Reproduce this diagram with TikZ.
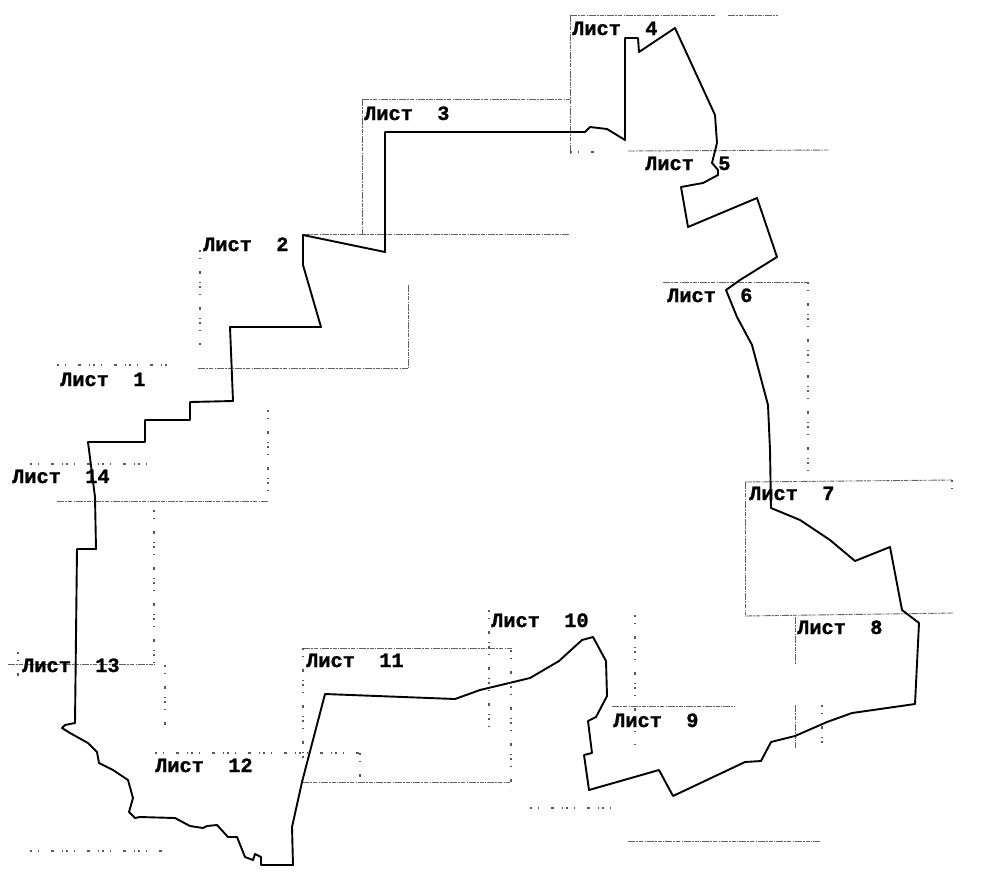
\documentclass[tikz,border=0pt]{standalone}
\usepackage{fontspec}
\setmainfont{Liberation Mono}
\newfontfamily\sheetfont[FakeBold=1.2]{Liberation Mono Bold}
\tikzset{
  boundary/.style={line width=1.9pt,black,line join=round},
  sheetline/.style={line width=0.9pt,black!62,dash pattern=on 7pt off 1pt on 2pt off 1pt on 4pt off 1.5pt on 1pt off 1pt},
  sparseline/.style={line width=1.1pt,black!65,dash pattern=on 2pt off 6pt on 1pt off 12pt on 3pt off 8pt on 1pt off 3pt},
  sheetlabel/.style={anchor=base west,inner sep=0pt,font=\sheetfont\fontsize{20.3}{20}\selectfont}
}
\begin{document}
\begin{tikzpicture}[x=1pt,y=-1pt]
\useasboundingbox (0,0) rectangle (995,884);
% sheet grid
\draw[sheetline] (570,15) -- (715,15);
\draw[sheetline] (728,15) -- (778,15);
\draw[sheetline] (570,15) -- (570,153);
\draw[sparseline] (570,152) -- (600,152);
\draw[sheetline] (628,151) -- (830,150);
\draw[sheetline] (362,99) -- (570,99);
\draw[sheetline] (362,99) -- (362,235);
\draw[sheetline] (303,234) -- (570,234);
\draw[sparseline] (200,250) -- (200,345);
\draw[sheetline] (198,368) -- (408,368);
\draw[sheetline] (408,285) -- (408,368);
\draw[sparseline] (57,365) -- (172,365);
\draw[sheetline] (57,501) -- (268,501);
\draw[sparseline] (268,410) -- (268,500);
\draw[sparseline] (30,464) -- (155,464);
\draw[sparseline] (154,510) -- (154,665);
\draw[sheetline] (8,664) -- (155,664);
\draw[sparseline] (18,652) -- (18,680);
\draw[sparseline] (165,665) -- (165,725);
\draw[sparseline] (155,753) -- (360,753);
\draw[sparseline] (360,753) -- (360,782);
\draw[sheetline] (302,782) -- (510,782);
\draw[sheetline] (303,648) -- (512,648);
\draw[sparseline] (303,648) -- (303,760);
\draw[sparseline] (489,610) -- (489,735);
\draw[sparseline] (511,650) -- (511,790);
\draw[sparseline] (530,808) -- (615,808);
\draw[sheetline] (612,706) -- (735,706);
\draw[sparseline] (635,615) -- (635,745);
\draw[sheetline] (745,482) -- (952,480);
\draw[sheetline] (745,482) -- (745,615);
\draw[sheetline] (745,616) -- (953,613);
\draw[sparseline] (952,480) -- (952,500);
\draw[sheetline] (795,617) -- (795,665);
\draw[sheetline] (795,705) -- (795,748);
\draw[sparseline] (822,705) -- (822,748);
\draw[sheetline] (663,282) -- (808,282);
\draw[sparseline] (808,282) -- (808,480);
\draw[sparseline] (30,851) -- (165,851);
\draw[sheetline] (628,841) -- (820,841);
% boundary
\draw[boundary] (625,38) -- (638,38) -- (639,52) -- (675,28) -- (715,115) -- (717,143) -- (712,163) -- (718,170) -- (718,175) -- (703,183) -- (681,187) -- (688,227) -- (757,198) -- (777,257) -- (740,280) -- (726,290) -- (737,317) -- (752,345) -- (760,375) -- (768,405) -- (770,450) -- (771,508) -- (800,520) -- (830,540) -- (855,561) -- (890,547) -- (902,610) -- (919,623) -- (915,704) -- (852,713) -- (827,722) -- (795,736) -- (771,742) -- (761,761) -- (745,762) -- (673,796) -- (659,770) -- (589,790) -- (584,755) -- (592,753) -- (588,721) -- (596,717) -- (607,696) -- (606,661) -- (593,637) -- (582,640) -- (559,661) -- (530,678) -- (480,690) -- (455,699) -- (325,694) -- (302,782) -- (292,827) -- (293,865) -- (261,865) -- (261,857) -- (255,854) -- (253,860) -- (245,857) -- (237,837) -- (228,837) -- (217,825) -- (207,826) -- (203,828) -- (190,826) -- (175,818) -- (140,817) -- (135,818) -- (129,812) -- (133,798) -- (128,780) -- (113,770) -- (99,763) -- (97,752) -- (88,743) -- (70,733) -- (62,728) -- (65,725) -- (75,723) -- (77,549) -- (96,549) -- (95,497) -- (88,442) -- (145,442) -- (145,420) -- (190,420) -- (190,402) -- (233,401) -- (230,327) -- (321,327) -- (303,265) -- (303,235) -- (385,252) -- (385,132) -- (585,132) -- (590,127) -- (607,129) -- (625,140) -- cycle;
% labels
\node[sheetlabel] (l4) at (572,35) {Лист\ \ 4};
\node[sheetlabel] (l3) at (364,120) {Лист\ \ 3};
\node[sheetlabel] (l2) at (203,251) {Лист\ \ 2};
\node[sheetlabel] (l1) at (60,386) {Лист\ \ 1};
\node[sheetlabel] (l14) at (12,483) {Лист\ \ 14};
\node[sheetlabel] (l5) at (645,170) {Лист\ \ 5};
\node[sheetlabel] (l6) at (667,302) {Лист\ \ 6};
\node[sheetlabel] (l7) at (749,500) {Лист\ \ 7};
\node[sheetlabel] (l8) at (797,634) {Лист\ \ 8};
\node[sheetlabel] (l9) at (613,727) {Лист\ \ 9};
\node[sheetlabel] (l10) at (491,627) {Лист\ \ 10};
\node[sheetlabel] (l11) at (306,667) {Лист\ \ 11};
\node[sheetlabel] (l12) at (155,772) {Лист\ \ 12};
\node[sheetlabel] (l13) at (22,672) {Лист\ \ 13};
\end{tikzpicture}
\end{document}
